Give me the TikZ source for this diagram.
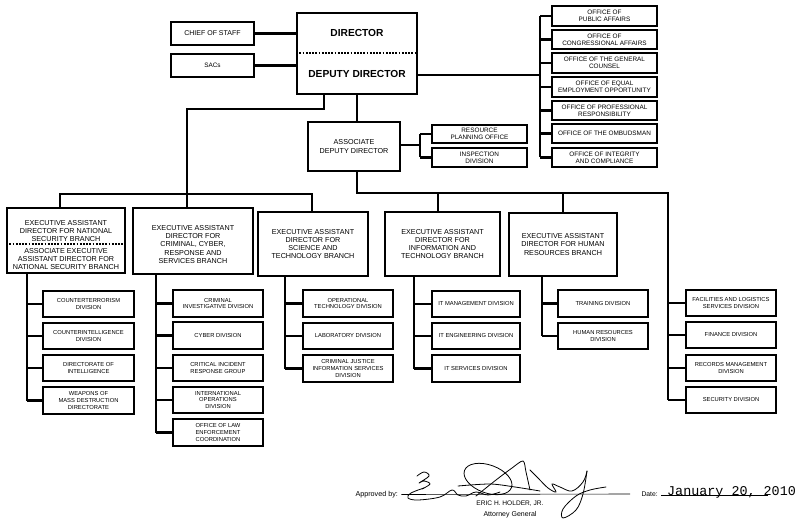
\documentclass[tikz,border=0pt]{standalone}
\usepackage{fontspec}
\setmainfont{Liberation Sans}
\newfontfamily\twfont{Liberation Mono}
\newcommand\fsz[2]{\fontsize{#1}{#2}\selectfont}
\newcommand\obox[7][]{\node[box,#1,minimum width={#5-#3},minimum height={#6-#4}] (#2) at ({(#3+#5)/2},{(#4+#6)/2}) {#7};}
\begin{document}
\begin{tikzpicture}[x=1pt,y=-1pt,
  box/.style={draw,line width=1.5pt,inner sep=0pt,align=center},
  ln/.style={line width=2.2pt},
  dl/.style={line width=1.4pt,dash pattern=on 1.8pt off 1.4pt},
  bigt/.style={font=\fsz{10.2}{12}\bfseries},
  eadt/.style={font=\fsz{7.2}{8.1}},
  offt/.style={font=\fsz{6.4}{7.1}},
  divt/.style={font=\fsz{5.8}{6.6}},
  sig/.style={line width=0.8pt,line cap=round,line join=round}]
\useasboundingbox[fill=white] (0,0) rectangle (800,529);

% ---- top level
\obox{dir}{297}{13}{417}{94}{}
\node[bigt] (dirt) at (357,33) {DIRECTOR};
\node[bigt] (ddirt) at (357,74) {DEPUTY DIRECTOR};
\draw[dl] (dir.west |- 0,53) -- (dir.east |- 0,53);
\obox[font=\fsz{7}{8}]{cos}{171}{22}{254}{45}{CHIEF OF STAFF}
\obox[font=\fsz{6.4}{7.2}]{sacs}{171}{54}{254}{77}{SACs}
\draw[ln] (cos.east) -- (cos.east -| dir.west);
\draw[ln] (sacs.east) -- (sacs.east -| dir.west);

% ---- offices
\obox[offt]{off1}{552}{6}{657}{26}{OFFICE OF\\PUBLIC AFFAIRS}
\obox[offt]{off2}{552}{30}{657}{49}{OFFICE OF\\CONGRESSIONAL AFFAIRS}
\obox[offt]{off3}{552}{53}{657}{73}{OFFICE OF THE GENERAL\\COUNSEL}
\obox[offt]{off4}{552}{77}{657}{97}{OFFICE OF EQUAL\\EMPLOYMENT OPPORTUNITY}
\obox[offt]{off5}{552}{101}{657}{120}{OFFICE OF PROFESSIONAL\\RESPONSIBILITY}
\obox[offt]{off6}{552}{124}{657}{143}{OFFICE OF THE OMBUDSMAN}
\obox[offt]{off7}{552}{148}{657}{167}{OFFICE OF INTEGRITY\\AND COMPLIANCE}
\coordinate (xo) at (540,0);
\draw[ln] (dir.east |- 0,75) -- (xo |- 0,75);
\draw[ln] (xo |- off1.west) -- (xo |- off7.west);
\foreach \i in {1,...,7} \draw[ln] (off\i.west) -- (off\i.west -| xo);

% ---- associate deputy director
\obox[eadt]{add}{308}{122}{400}{171}{ASSOCIATE\\DEPUTY DIRECTOR}
\obox[offt]{rpo}{432}{125}{527}{143}{RESOURCE\\PLANNING OFFICE}
\obox[offt]{ins}{432}{148}{527}{167}{INSPECTION\\DIVISION}
\coordinate (xb) at (420,0);
\draw[ln] (add.east |- 0,145) -- (xb |- 0,145);
\draw[ln] (xb |- rpo.west) -- (xb |- ins.west);
\draw[ln] (rpo.west) -- (rpo.west -| xb);
\draw[ln] (ins.west) -- (ins.west -| xb);

% ---- executive assistant directors
\obox{nsb}{7}{208}{125}{273}{}
\node[eadt,align=center] (nsbt) at (66,231) {EXECUTIVE ASSISTANT\\DIRECTOR FOR NATIONAL\\SECURITY BRANCH};
\node[eadt,align=center] (nsbb) at (66,259) {ASSOCIATE EXECUTIVE\\ASSISTANT DIRECTOR FOR\\NATIONAL SECURITY BRANCH};
\draw[dl] (nsb.west |- 0,244) -- (nsb.east |- 0,244);
\obox{ccr}{133}{208}{253}{274}{}
\node[eadt,align=center] (ccrt) at (193,244.5) {EXECUTIVE ASSISTANT\\DIRECTOR FOR\\CRIMINAL, CYBER,\\RESPONSE AND\\SERVICES BRANCH};
\obox[eadt]{stb}{258}{212}{368}{276}{EXECUTIVE ASSISTANT\\DIRECTOR FOR\\SCIENCE AND\\TECHNOLOGY BRANCH}
\obox[eadt]{itb}{385}{212}{500}{276}{EXECUTIVE ASSISTANT\\DIRECTOR FOR\\INFORMATION AND\\TECHNOLOGY BRANCH}
\obox[eadt]{hrb}{509}{213}{617}{276}{EXECUTIVE ASSISTANT\\DIRECTOR FOR HUMAN\\RESOURCES BRANCH}

% left trunk
\coordinate (jl) at (324,109);
\coordinate (xc) at (187,0);
\coordinate (xn) at (60,0);
\coordinate (xs) at (312,0);
\draw[ln] (jl |- dir.south) -- (jl) -| (xc |- ccr.north);
\draw[ln] (xn |- nsb.north) |- (xs |- 0,194) -- (xs |- stb.north);
% right trunk
\coordinate (jr) at (357,0);
\coordinate (xi) at (438,0);
\coordinate (xh) at (563,0);
\coordinate (xa) at (668,0);
\draw[ln] (jr |- dir.south) -- (jr |- add.north);

% ---- divisions
\obox[divt]{n1}{43}{291}{134}{317}{COUNTERTERRORISM\\DIVISION}
\obox[divt]{n2}{43}{323}{134}{349}{COUNTERINTELLIGENCE\\DIVISION}
\obox[divt]{n3}{43}{355}{134}{381}{DIRECTORATE OF\\INTELLIGENCE}
\obox[divt]{n4}{43}{387}{134}{414}{WEAPONS OF\\MASS DESTRUCTION\\DIRECTORATE}

\obox[divt]{c1}{173}{290}{263}{317}{CRIMINAL\\INVESTIGATIVE DIVISION}
\obox[divt]{c2}{173}{322}{263}{349}{CYBER DIVISION}
\obox[divt]{c3}{173}{355}{263}{381}{CRITICAL INCIDENT\\RESPONSE GROUP}
\obox[divt]{c4}{173}{387}{263}{413}{INTERNATIONAL\\OPERATIONS\\DIVISION}
\obox[divt]{c5}{173}{419}{263}{446}{OFFICE OF LAW\\ENFORCEMENT\\COORDINATION}

\obox[divt]{s1}{303}{290}{393}{317}{OPERATIONAL\\TECHNOLOGY DIVISION}
\obox[divt]{s2}{303}{323}{393}{349}{LABORATORY DIVISION}
\obox[divt]{s3}{303}{355}{393}{382}{CRIMINAL JUSTICE\\INFORMATION SERVICES\\DIVISION}

\obox[divt]{i1}{432}{291}{520}{317}{IT MANAGEMENT DIVISION}
\obox[divt]{i2}{432}{323}{520}{349}{IT ENGINEERING DIVISION}
\obox[divt]{i3}{432}{355}{520}{382}{IT SERVICES DIVISION}

\obox[divt]{h1}{558}{290}{648}{317}{TRAINING DIVISION}
\obox[divt]{h2}{558}{323}{648}{349}{HUMAN RESOURCES\\DIVISION}

\obox[divt]{a1}{686}{290}{776}{316}{FACILITIES AND LOGISTICS\\SERVICES DIVISION}
\obox[divt]{a2}{686}{322}{776}{348}{FINANCE DIVISION}
\obox[divt]{a3}{686}{355}{776}{381}{RECORDS MANAGEMENT\\DIVISION}
\obox[divt]{a4}{686}{387}{776}{413}{SECURITY DIVISION}

\draw[ln] (jr |- add.south) |- (xa |- 0,193) -- (xa |- a4.west);
\draw[ln] (xi |- 0,193) -- (xi |- itb.north);
\draw[ln] (xh |- 0,193) -- (xh |- hrb.north);

% sub-trunks
\coordinate (tn) at (27,0);
\coordinate (tc) at (156,0);
\coordinate (ts) at (285,0);
\coordinate (ti) at (414,0);
\coordinate (th) at (542,0);
\draw[ln] (tn |- nsb.south) -- (tn |- n4.west);
\foreach \c in {n1,n2,n3,n4} \draw[ln] (\c.west) -- (\c.west -| tn);
\draw[ln] (tc |- ccr.south) -- (tc |- c5.west);
\foreach \c in {c1,c2,c3,c4,c5} \draw[ln] (\c.west) -- (\c.west -| tc);
\draw[ln] (ts |- stb.south) -- (ts |- s3.west);
\foreach \c in {s1,s2,s3} \draw[ln] (\c.west) -- (\c.west -| ts);
\draw[ln] (ti |- itb.south) -- (ti |- i3.west);
\foreach \c in {i1,i2,i3} \draw[ln] (\c.west) -- (\c.west -| ti);
\draw[ln] (th |- hrb.south) -- (th |- h2.west);
\foreach \c in {h1,h2} \draw[ln] (\c.west) -- (\c.west -| th);
\foreach \c in {a1,a2,a3,a4} \draw[ln] (\c.west) -- (\c.west -| xa);

% ---- approval
\node[anchor=base west,font=\fsz{7.2}{8}] (appr) at (352,496) {Approved by:};
\coordinate (sigend) at (630,494);
\draw[line width=0.6pt] (appr.base east) ++(0,-1.5) -- (sigend);
\node[font=\fsz{6.6}{8}] (name) at (510,503.5) {ERIC H. HOLDER, JR.};
\node[font=\fsz{7}{8}] (title) at (510,514.5) {Attorney General};
\node[anchor=base west,font=\fsz{6.8}{8}] (datel) at (638,496) {Date:};
\node[anchor=base west,font=\twfont\fsz{13.4}{14},inner sep=0pt] (datev) at (667,495) {January 20, 2010};
\coordinate (dateend) at (768,495.5);
\draw[line width=0.6pt] (datel.base east) ++(0,-0.5) -- (dateend);

% signature (drawn shape)
\draw[sig] plot[smooth,tension=0.6] coordinates {(417,476) (424,472) (429,476) (419,483) (424,481) (430,484) (422,489)};
\draw[sig] plot[smooth,tension=0.6] coordinates {(424,488) (411,493) (408,498) (418,500) (440,497) (452,490) (458,495) (466,496) (476,492) (488,495) (500,492)};
\draw[sig,rotate around={-20:(488,479)}] (488,479) ellipse [x radius=25pt,y radius=14pt];
\draw[sig] plot[smooth,tension=0.5] coordinates {(476,496) (496,480) (512,468) (523,461) (526,472) (530,490)};
\draw[sig] plot[smooth,tension=0.5] coordinates {(458,486) (490,484) (515,487) (540,491)};
\draw[sig] plot[smooth,tension=0.6] coordinates {(530,470) (538,478) (548,488) (556,492) (552,484) (560,487) (572,491) (583,482) (587,471)};
\draw[sig] plot[smooth,tension=0.6] coordinates {(587,471) (583,494) (576,510) (563,518) (563,509) (576,496) (590,490) (606,487)};
\end{tikzpicture}
\end{document}
